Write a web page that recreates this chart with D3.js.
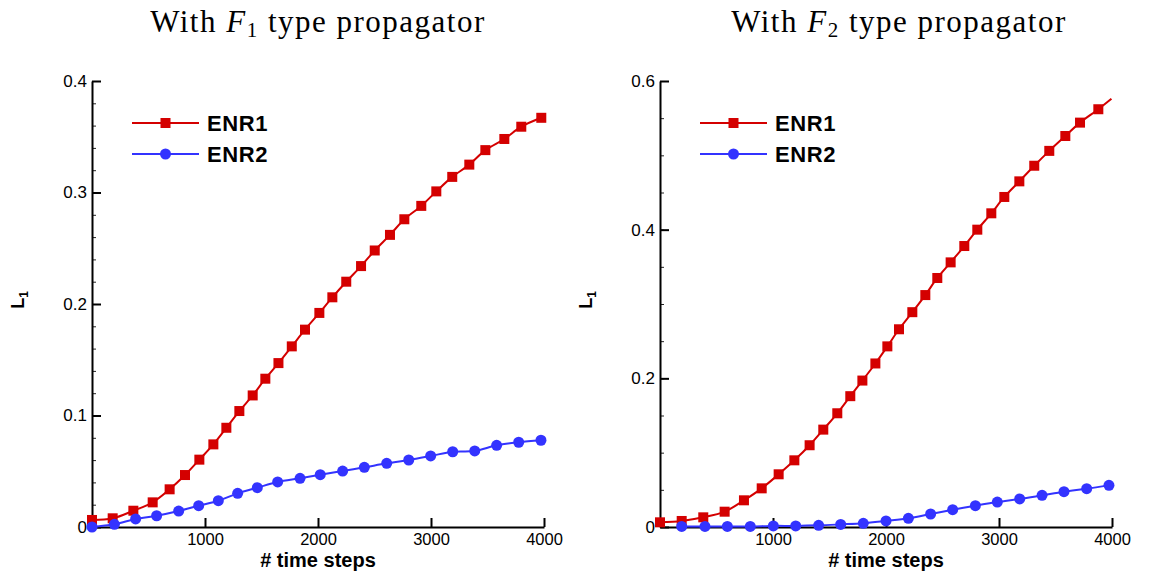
<!DOCTYPE html>
<html>
<head>
<meta charset="utf-8">
<script src="https://cdn.jsdelivr.net/npm/d3@7"></script>
<style>
  html, body { margin: 0; padding: 0; background: #fff; }
  svg { display: block; }
</style>
</head>
<body>
<svg id="chart" width="1150" height="573"></svg>
<script>
// ---------------- DATA ----------------
const seriesNames = ["ENR1", "ENR2"];
const xTickLabels = ["1000", "2000", "3000", "4000"];
const leftYTickLabels = ["0", "0.1", "0.2", "0.3", "0.4"];
const rightYTickLabels = ["0", "0.2", "0.4", "0.6"];

// Left panel (F1 propagator)
const leftEnr1Steps = [0, 183, 366, 537, 687, 823, 950, 1074, 1189, 1304, 1422, 1534, 1650, 1768, 1885, 2012, 2127, 2250, 2381, 2502, 2637, 2764, 2914, 3047, 3188, 3339, 3481, 3649, 3799, 3976];
const leftEnr1Values = [0.0063, 0.0078, 0.0146, 0.0221, 0.0338, 0.0466, 0.0604, 0.0741, 0.089, 0.104, 0.118, 0.133, 0.147, 0.162, 0.177, 0.192, 0.206, 0.220, 0.234, 0.248, 0.262, 0.276, 0.288, 0.301, 0.314, 0.325, 0.338, 0.348, 0.359, 0.367];
const leftEnr2Steps = [0, 198, 386, 572, 767, 944, 1118, 1289, 1463, 1643, 1841, 2020, 2218, 2410, 2608, 2803, 2997, 3192, 3387, 3581, 3776, 3973];
const leftEnr2Values = [0.0, 0.0024, 0.0072, 0.0101, 0.0143, 0.0191, 0.0236, 0.0302, 0.0353, 0.0404, 0.0437, 0.0469, 0.0502, 0.0535, 0.0571, 0.0601, 0.0637, 0.0675, 0.0682, 0.0733, 0.0760, 0.0778];

// Right panel (F2 propagator)
const rightEnr1Steps = [0, 192, 383, 572, 743, 900, 1050, 1189, 1324, 1445, 1569, 1684, 1791, 1906, 2012, 2115, 2233, 2348, 2454, 2572, 2693, 2808, 2932, 3047, 3180, 3312, 3445, 3587, 3717, 3879];
const rightEnr1Values = [0.0063, 0.0081, 0.013, 0.0206, 0.0359, 0.052, 0.0709, 0.0897, 0.110, 0.131, 0.153, 0.176, 0.197, 0.220, 0.243, 0.266, 0.289, 0.312, 0.335, 0.356, 0.378, 0.400, 0.422, 0.444, 0.465, 0.486, 0.506, 0.526, 0.544, 0.562];
const rightEnr1LineEnd = [3995, 0.576];   // curve continues past the last symbol
const rightEnr2Steps = [192, 398, 596, 799, 1003, 1201, 1404, 1599, 1799, 2000, 2198, 2395, 2590, 2791, 2985, 3183, 3381, 3575, 3776, 3973];
const rightEnr2Values = [0.0008, 0.0008, 0.0008, 0.0008, 0.0015, 0.0015, 0.0022, 0.0035, 0.005, 0.0082, 0.0117, 0.0175, 0.0233, 0.0287, 0.0336, 0.0377, 0.0426, 0.0475, 0.0515, 0.056];

// ---------------- STYLE / LAYOUT ----------------
const RED = "#d40000";
const BLUE = "#3333ff";
const SQ = 10, CR = 5.5;
const svg = d3.select("#chart");

const panels = [
  {
    x0: 92, x1: 544, yTop: 81, yBot: 527, yMax: 0.4, major: 0.1, minor: 0.02,
    yLabels: leftYTickLabels, titleCx: 318, sub: "1",
    enr1: { steps: leftEnr1Steps, values: leftEnr1Values, end: null },
    enr2: { steps: leftEnr2Steps, values: leftEnr2Values }
  },
  {
    x0: 660, x1: 1112, yTop: 81, yBot: 527, yMax: 0.6, major: 0.2, minor: 0.05,
    yLabels: rightYTickLabels, titleCx: 899, sub: "2",
    enr1: { steps: rightEnr1Steps, values: rightEnr1Values, end: rightEnr1LineEnd },
    enr2: { steps: rightEnr2Steps, values: rightEnr2Values }
  }
];

panels.forEach((p) => {
  const x = d3.scaleLinear().domain([0, 4000]).range([p.x0, p.x1]);
  const y = d3.scaleLinear().domain([0, p.yMax]).range([p.yBot, p.yTop]);
  const g = svg.append("g");

  // Title
  const t = g.append("text")
    .attr("x", p.titleCx).attr("y", 32)
    .attr("text-anchor", "middle")
    .attr("font-family", "'Liberation Serif', 'Times New Roman', serif")
    .attr("font-size", 31)
    .attr("letter-spacing", 1.5)
    .attr("fill", "#000");
  t.append("tspan").text("With ");
  t.append("tspan").attr("font-style", "italic").text("F");
  t.append("tspan").attr("font-size", 21).attr("dy", 5).text(p.sub);
  t.append("tspan").attr("dy", -5).text(" type propagator");

  // Minor ticks on y
  const nMinor = Math.round(p.yMax / p.minor);
  const minorVals = d3.range(0, nMinor + 1).map(i => +(i * p.minor).toFixed(4));
  g.append("g")
    .attr("transform", `translate(${p.x0},0)`)
    .call(d3.axisLeft(y).tickValues(minorVals).tickSizeInner(-4).tickSizeOuter(0).tickFormat(""))
    .call(a => a.select(".domain").remove())
    .call(a => a.selectAll("line").attr("stroke", "#222").attr("stroke-width", 1));

  // Major y axis
  const nMajor = Math.round(p.yMax / p.major);
  const majorVals = d3.range(0, nMajor + 1).map(i => +(i * p.major).toFixed(4));
  g.append("g")
    .attr("transform", `translate(${p.x0},0)`)
    .call(d3.axisLeft(y).tickValues(majorVals).tickSizeInner(-9).tickSizeOuter(0).tickPadding(5)
      .tickFormat((d, i) => p.yLabels[i]))
    .call(a => a.select(".domain").attr("stroke", "#000").attr("stroke-width", 2))
    .call(a => a.selectAll("line").attr("stroke", "#000").attr("stroke-width", 2))
    .call(a => a.selectAll("text").attr("font-family", "'Liberation Sans', Arial, sans-serif")
      .attr("font-size", 17).attr("fill", "#000"));

  // X axis
  g.append("g")
    .attr("transform", `translate(0,${p.yBot})`)
    .call(d3.axisBottom(x).tickValues(xTickLabels.map(Number)).tickSizeInner(-9).tickSizeOuter(0).tickPadding(6)
      .tickFormat((d, i) => xTickLabels[i]))
    .call(a => a.select(".domain").attr("stroke", "#000").attr("stroke-width", 2))
    .call(a => a.selectAll("line").attr("stroke", "#000").attr("stroke-width", 2))
    .call(a => a.selectAll("text").attr("font-family", "'Liberation Sans', Arial, sans-serif")
      .attr("font-size", 16.5).attr("fill", "#000"));

  // Axis titles
  g.append("text")
    .attr("x", (p.x0 + p.x1) / 2).attr("y", 567)
    .attr("text-anchor", "middle")
    .attr("font-family", "'Liberation Sans', Arial, sans-serif")
    .attr("font-size", 20).attr("font-weight", "bold")
    .text("# time steps");
  const yl = g.append("text")
    .attr("transform", `translate(${p.x0 - 68},300) rotate(-90)`)
    .attr("text-anchor", "middle")
    .attr("font-family", "'Liberation Sans', Arial, sans-serif")
    .attr("font-size", 18).attr("font-weight", "bold");
  yl.append("tspan").text("L");
  yl.append("tspan").attr("font-size", 12).attr("dy", 4).text("1");

  const line = d3.line().x(d => x(d[0])).y(d => y(d[1])).curve(d3.curveCatmullRom.alpha(0.5));

  // ENR1
  const r1 = p.enr1.steps.map((s, i) => [s, p.enr1.values[i]]);
  const r1Line = p.enr1.end ? r1.concat([p.enr1.end]) : r1;
  g.append("path").datum(r1Line).attr("d", line)
    .attr("fill", "none").attr("stroke", RED).attr("stroke-width", 2);
  g.selectAll(".sq").data(r1).enter().append("rect")
    .attr("x", d => x(d[0]) - SQ / 2).attr("y", d => y(d[1]) - SQ / 2)
    .attr("width", SQ).attr("height", SQ).attr("fill", RED);

  // ENR2
  const b2 = p.enr2.steps.map((s, i) => [s, p.enr2.values[i]]);
  g.append("path").datum(b2).attr("d", line)
    .attr("fill", "none").attr("stroke", BLUE).attr("stroke-width", 2);
  g.selectAll(".ci").data(b2).enter().append("circle")
    .attr("cx", d => x(d[0])).attr("cy", d => y(d[1]))
    .attr("r", CR).attr("fill", BLUE);

  // Legend
  const lx0 = p.x0 + 40, lx1 = p.x0 + 107, lxm = (lx0 + lx1) / 2;
  const rows = [{ name: seriesNames[0], color: RED, shape: "sq", y: 123 },
                { name: seriesNames[1], color: BLUE, shape: "ci", y: 154 }];
  rows.forEach(r => {
    g.append("line").attr("x1", lx0).attr("x2", lx1).attr("y1", r.y).attr("y2", r.y)
      .attr("stroke", r.color).attr("stroke-width", 2);
    if (r.shape === "sq") {
      g.append("rect").attr("x", lxm - SQ / 2).attr("y", r.y - SQ / 2).attr("width", SQ).attr("height", SQ).attr("fill", r.color);
    } else {
      g.append("circle").attr("cx", lxm).attr("cy", r.y).attr("r", CR).attr("fill", r.color);
    }
    g.append("text").attr("x", lx1 + 8).attr("y", r.y + 8)
      .attr("font-family", "'Liberation Sans', Arial, sans-serif")
      .attr("font-size", 22).attr("font-weight", "bold").attr("letter-spacing", 0.6)
      .text(r.name);
  });
});
</script>
</body>
</html>
